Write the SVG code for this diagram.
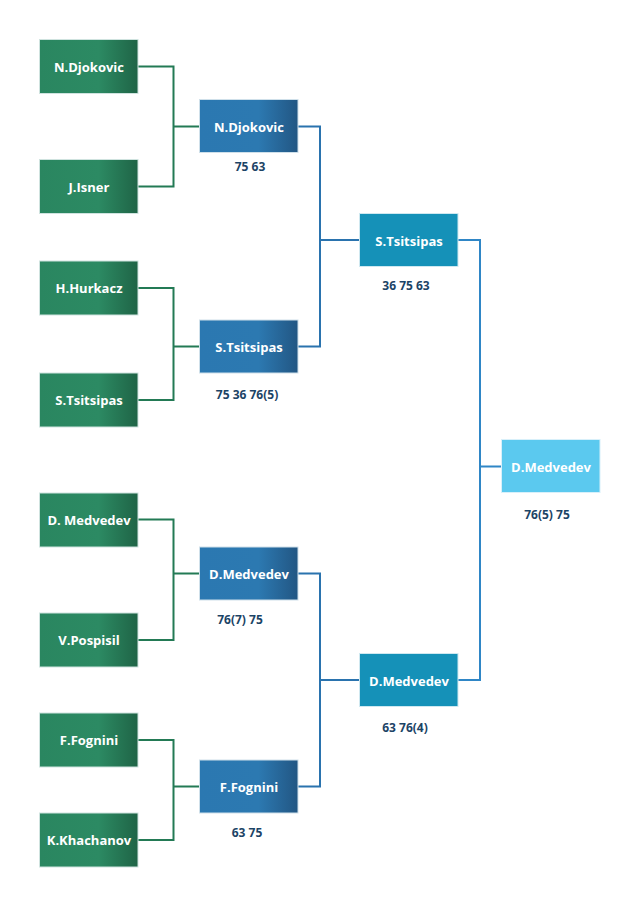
<svg xmlns="http://www.w3.org/2000/svg" width="635" height="899" viewBox="0 0 635 899">
<defs>
<linearGradient id="gG" x1="0" y1="0" x2="1" y2="0">
<stop offset="0" stop-color="#2a8660"/>
<stop offset="0.6" stop-color="#2c8a63"/>
<stop offset="1" stop-color="#1f6446"/>
</linearGradient>
<linearGradient id="gB" x1="0" y1="0" x2="1" y2="0">
<stop offset="0" stop-color="#2b78b1"/>
<stop offset="0.6" stop-color="#2c79b1"/>
<stop offset="1" stop-color="#225683"/>
</linearGradient>
<style>
.g{fill:url(#gG);stroke:#cfe3df;stroke-width:1}
.b{fill:url(#gB);stroke:#cfe0ea;stroke-width:1}
.c{fill:#1591b8;stroke:#cfe8f0;stroke-width:1}
.f{fill:#5bc9ef;stroke:#d8f0fa;stroke-width:1}
.t{font-family:"Open Sans","Noto Sans",sans-serif;font-weight:bold;font-size:13px;fill:#ffffff;text-anchor:middle}
.s{font-family:"Open Sans","Noto Sans",sans-serif;font-weight:bold;font-size:12px;fill:#1c4466;text-anchor:middle}
.lg{fill:none;stroke:#237a55;stroke-width:2}
.lb{fill:none;stroke:#2a73ae;stroke-width:2}
.lc{fill:none;stroke:#2f86c6;stroke-width:2}
</style>
</defs>
<rect width="635" height="899" fill="#ffffff"/>
<g id="connectors">
<path class="lg" d="M138,66.5H173.5V186.5H138M173.5,126.5H200"/>
<path class="lg" d="M138,288H173.5V400H138M173.5,346.5H200"/>
<path class="lg" d="M138,519.5H173.5V640H138M173.5,573.5H200"/>
<path class="lg" d="M138,740H173.5V840H138M173.5,786.5H200"/>
<path class="lb" d="M298,126.5H320V346.5H298M320,240H359"/>
<path class="lb" d="M298,573.5H320V786.5H298M320,680H359"/>
<path class="lc" d="M458,240H480V680H458M480,466.5H501"/>
</g>
<g id="n1"><rect class="g" x="39.5" y="39.5" width="98.5" height="54"/><text class="t" x="89" y="71.5">N.Djokovic</text></g>
<g id="n2"><rect class="g" x="39.5" y="159.5" width="98.5" height="54"/><text class="t" x="89" y="191.5">J.Isner</text></g>
<g id="n3"><rect class="g" x="39.5" y="261" width="98.5" height="54"/><text class="t" x="89" y="293">H.Hurkacz</text></g>
<g id="n4"><rect class="g" x="39.5" y="373" width="98.5" height="54"/><text class="t" x="89" y="405">S.Tsitsipas</text></g>
<g id="n5"><rect class="g" x="39.5" y="493" width="98.5" height="54"/><text class="t" x="89" y="525">D. Medvedev</text></g>
<g id="n6"><rect class="g" x="39.5" y="613" width="98.5" height="54"/><text class="t" x="89" y="645">V.Pospisil</text></g>
<g id="n7"><rect class="g" x="39.5" y="713" width="98.5" height="54"/><text class="t" x="89" y="745">F.Fognini</text></g>
<g id="n8"><rect class="g" x="39.5" y="813" width="98.5" height="54"/><text class="t" x="89" y="845">K.Khachanov</text></g>
<g id="r2a"><rect class="b" x="199.5" y="99.5" width="98.5" height="53"/><text class="t" x="249" y="131.5">N.Djokovic</text><text class="s" x="250" y="171">75 63</text></g>
<g id="r2b"><rect class="b" x="199.5" y="320" width="98.5" height="53"/><text class="t" x="249" y="352">S.Tsitsipas</text><text class="s" x="247" y="399">75 36 76(5)</text></g>
<g id="r2c"><rect class="b" x="199.5" y="547" width="98.5" height="53"/><text class="t" x="249" y="579">D.Medvedev</text><text class="s" x="240" y="624">76(7) 75</text></g>
<g id="r2d"><rect class="b" x="199.5" y="760" width="98.5" height="53"/><text class="t" x="249" y="792">F.Fognini</text><text class="s" x="247" y="837">63 75</text></g>
<g id="r3a"><rect class="c" x="359.5" y="213.5" width="98.5" height="53"/><text class="t" x="409" y="245.5">S.Tsitsipas</text><text class="s" x="406" y="290">36 75 63</text></g>
<g id="r3b"><rect class="c" x="359.5" y="653.5" width="98.5" height="53"/><text class="t" x="409" y="685.5">D.Medvedev</text><text class="s" x="405" y="732">63 76(4)</text></g>
<g id="final"><rect class="f" x="501.5" y="439.5" width="98.5" height="53"/><text class="t" x="551" y="471.5">D.Medvedev</text><text class="s" x="547" y="519">76(5) 75</text></g>
</svg>
